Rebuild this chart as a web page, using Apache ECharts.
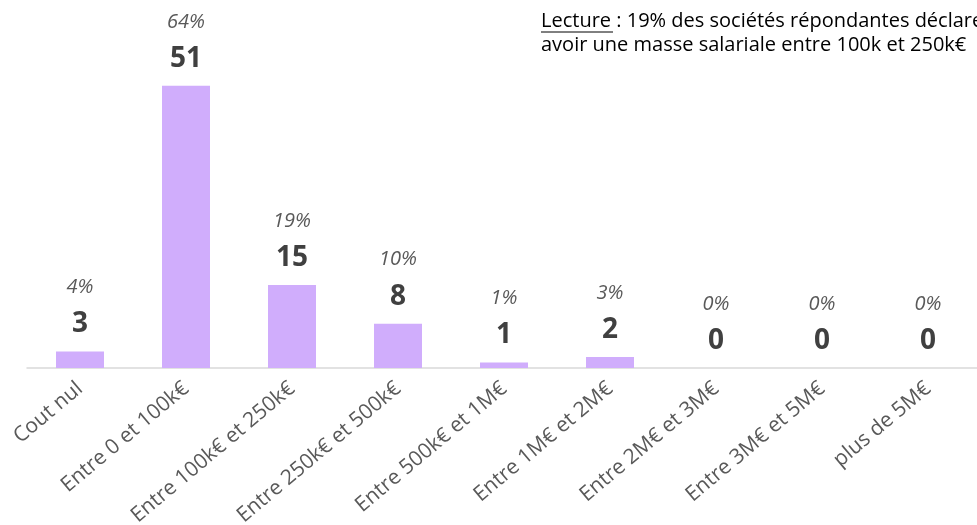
<!DOCTYPE html>
<html>
<head>
<meta charset="utf-8">
<script src="https://cdn.jsdelivr.net/npm/echarts@6/dist/echarts.min.js"></script>
<style>html,body{margin:0;padding:0;background:#fff}#c{width:977px;height:525px}</style>
</head>
<body>
<div id="c"></div>
<script>
const categories = ["Cout nul", "Entre 0 et 100k€", "Entre 100k€ et 250k€", "Entre 250k€ et 500k€", "Entre 500k€ et 1M€", "Entre 1M€ et 2M€", "Entre 2M€ et 3M€", "Entre 3M€ et 5M€", "plus de 5M€"];
const counts = [3, 51, 15, 8, 1, 2, 0, 0, 0];
const percents = ["4%", "64%", "19%", "10%", "1%", "3%", "0%", "0%", "0%"];
const noteLabel = "Lecture";
const noteLine1 = " : 19% des sociétés répondantes déclarent";
const noteLine2 = "avoir une masse salariale entre 100k et 250k€";

const FONT = "Open Sans";
const chart = echarts.init(document.getElementById('c'), null, {renderer: 'canvas'});
chart.setOption({
  animation: false,
  textStyle: {fontFamily: FONT},
  grid: {left: 27, top: 36, width: 954, height: 332, containLabel: false, outerBoundsMode: 'none'},
  xAxis: {
    type: 'category',
    data: categories,
    axisLine: {lineStyle: {color: '#D9D9D9', width: 1.5}},
    axisTick: {show: false},
    axisLabel: {rotate: 40, interval: 0, margin: 18, color: '#595959', fontSize: 21, fontFamily: FONT, hideOverlap: false}
  },
  yAxis: {type: 'value', min: 0, max: 60, show: false, splitLine: {show: false}},
  series: [{
    type: 'bar',
    data: counts,
    barWidth: 48,
    itemStyle: {color: '#D0ADFC'},
    label: {
      show: true,
      position: 'top',
      distance: 9,
      formatter: p => '{p|' + percents[p.dataIndex] + '}\n{v|' + p.value + '}',
      rich: {
        p: {fontSize: 20, fontStyle: 'italic', color: '#595959', lineHeight: 38, fontFamily: FONT},
        v: {fontSize: 28, fontWeight: 'bold', color: '#404040', lineHeight: 36, fontFamily: FONT}
      }
    }
  }],
  graphic: [
    {type: 'text', left: 541, top: 9, style: {text: noteLabel + noteLine1 + '\n' + noteLine2, fontSize: 20, lineHeight: 24, fill: '#000', fontFamily: FONT}},
    {type: 'line', shape: {x1: 541, y1: 32, x2: 613, y2: 32}, style: {stroke: '#000', lineWidth: 1}}
  ]
});
</script>
</body>
</html>
